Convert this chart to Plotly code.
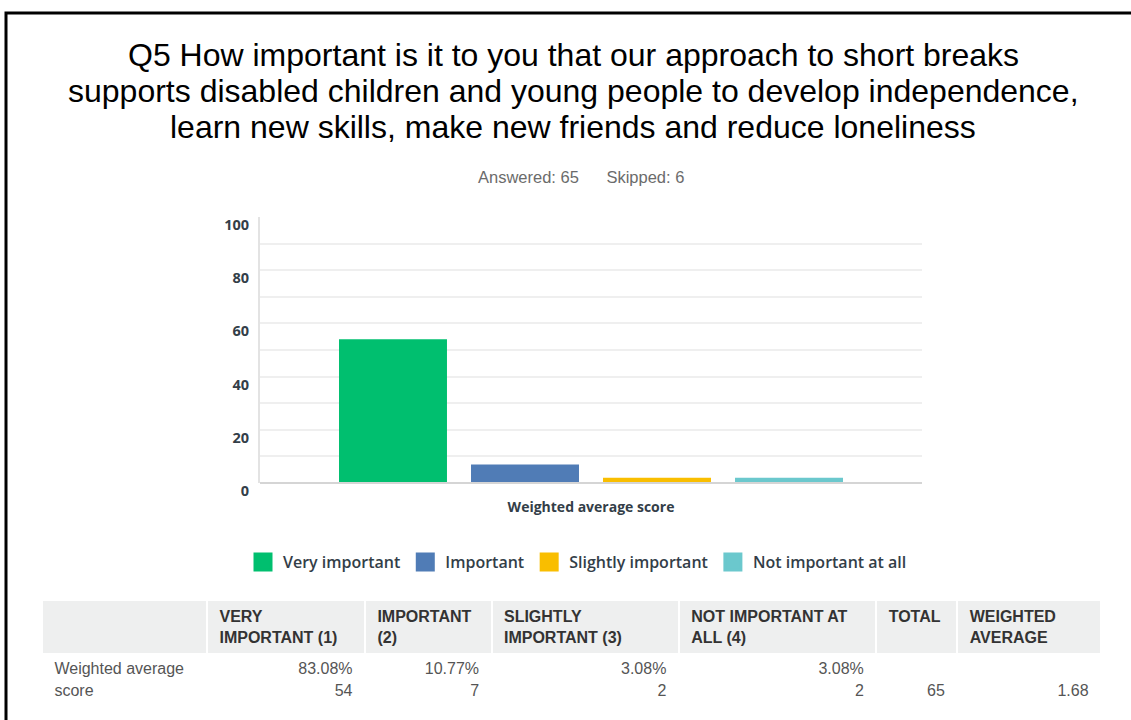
import plotly.graph_objects as go

W, H = 1131, 720

title_lines = [
    "Q5 How important is it to you that our approach to short breaks",
    "supports disabled children and young people to develop independence,",
    "learn new skills, make new friends and reduce loneliness",
]
answered = 65
skipped = 6

categories = ["Weighted average score"]
series_names = ["Very important", "Important", "Slightly important", "Not important at all"]
series_values = [54, 7, 2, 2]
series_colors = ["#00BF6F", "#507CB6", "#F9BE00", "#6BC8CD"]

y_ticks = [0, 20, 40, 60, 80, 100]
y_grid = [10, 20, 30, 40, 50, 60, 70, 80, 90]

table_header = ["", "VERY<br>IMPORTANT (1)", "IMPORTANT<br>(2)", "SLIGHTLY<br>IMPORTANT (3)",
                "NOT IMPORTANT AT<br>ALL (4)", "TOTAL", "WEIGHTED<br>AVERAGE"]
row_label = ["Weighted average", "score"]
row_pcts = ["83.08%", "10.77%", "3.08%", "3.08%"]
row_counts = [54, 7, 2, 2]
row_total = 65
row_wavg = "1.68"


def px(x):
    return x / W


def py(y):
    return 1 - y / H


fig = go.Figure()
for name, val, col in zip(series_names, series_values, series_colors):
    fig.add_trace(go.Bar(x=categories, y=[val], name=name, legendgroup=name, showlegend=False,
                         marker=dict(color=col, line=dict(width=0)), xaxis="x", yaxis="y"))
# legend entries (larger square swatches)
for name, col in zip(series_names, series_colors):
    fig.add_trace(go.Scatter(x=[None], y=[None], mode="markers", name=name, legendgroup=name,
                             marker=dict(symbol="square", size=16, color=col, line=dict(color=col, width=3)),
                             xaxis="x", yaxis="y", hoverinfo="skip"))

# invisible trace to carry gridlines axis
fig.add_trace(go.Scatter(x=categories, y=[None], yaxis="y2", xaxis="x", showlegend=False, hoverinfo="skip"))

sp = "\u00a0"
cells = [[sp + s.replace(" ", sp) for s in row_label]]
for p, c in zip(row_pcts, row_counts):
    cells.append([p + sp, str(c) + sp])
cells.append(["", str(row_total) + sp])
cells.append(["", row_wavg + sp])

fig.add_trace(go.Table(
    domain=dict(x=[px(42), px(1101)], y=[0, py(600)]),
    columnwidth=[163, 156, 125, 185, 195, 80, 142],
    header=dict(values=["&nbsp;" + f"<b>{h}</b>".replace("<br>", "<br>&nbsp;") for h in table_header],
                fill_color="#EEEFEF", line=dict(color="white", width=2),
                align="left", height=51,
                font=dict(family="Liberation Sans, Arial", size=16, color="#333333")),
    cells=dict(values=cells, fill_color="rgba(0,0,0,0)", line=dict(color="rgba(0,0,0,0)", width=0),
               align=["left", "right", "right", "right", "right", "right", "right"], height=22,
               font=dict(family="Liberation Sans, Arial", size=16, color="#555555")),
))

tick_font = dict(family="Open Sans", size=14.5, color="#333E48", weight=700)
xlab_font = dict(family="Open Sans", size=14, color="#333E48", weight=700)

annotations = []
for i, line in enumerate(title_lines):
    annotations.append(dict(text=line, xref="paper", yref="paper", x=px(573), y=py(55 + 36 * i),
                            xanchor="center", yanchor="middle", showarrow=False,
                            font=dict(family="Liberation Sans, Arial", size=32, color="#000000")))
annotations.append(dict(text=f"Answered: {answered}&nbsp;&nbsp;&nbsp;&nbsp;&nbsp;&nbsp;Skipped: {skipped}",
                        xref="paper", yref="paper", x=px(581), y=py(177), xanchor="center", yanchor="middle",
                        showarrow=False, font=dict(family="Liberation Sans, Arial", size=16.5, color="#6B6B6B")))

fig.update_layout(
    width=W, height=H,
    margin=dict(l=0, r=0, t=0, b=0, autoexpand=False),
    paper_bgcolor="white", plot_bgcolor="white",
    barmode="group", bargap=0.2024, bargroupgap=0.182,
    xaxis=dict(domain=[px(260), px(922)], showgrid=False, showline=False, zeroline=False, automargin=False,
               ticks="", tickfont=xlab_font, ticklabelstandoff=14, fixedrange=True),
    yaxis=dict(domain=[py(483), py(217)], range=[0, 100], tickvals=y_ticks, showgrid=False, automargin=False,
               zeroline=False, showline=True, linecolor="#E3E3E3", linewidth=2,
               tickfont=tick_font, ticklabelstandoff=6, ticklabelshift=8, ticks=""),
    yaxis2=dict(domain=[py(483), py(217)], range=[0, 100], overlaying="y", tickvals=y_grid, automargin=False,
                showgrid=True, gridcolor="#EFEFEF", gridwidth=2, showticklabels=False,
                zeroline=False, showline=False),
    legend=dict(orientation="h", x=px(243), xanchor="left", y=py(562), yanchor="middle",
                font=dict(family="Open Sans", size=16, color="#333E48", weight=600),
                itemclick=False, itemdoubleclick=False, traceorder="normal", itemsizing="trace"),
    showlegend=True,
    annotations=annotations,
    shapes=[
        dict(type="line", xref="paper", yref="paper", x0=px(260), x1=px(922), y0=py(483), y1=py(483),
             line=dict(color="#D5D5D5", width=2), layer="above"),
        dict(type="rect", xref="paper", yref="paper", x0=px(6), x1=px(1200), y0=py(13), y1=py(800),
             line=dict(color="black", width=3)),
    ],
)

fig.write_html("out.html", config={"displayModeBar": False},
               post_script="document.body.style.margin='0';")
